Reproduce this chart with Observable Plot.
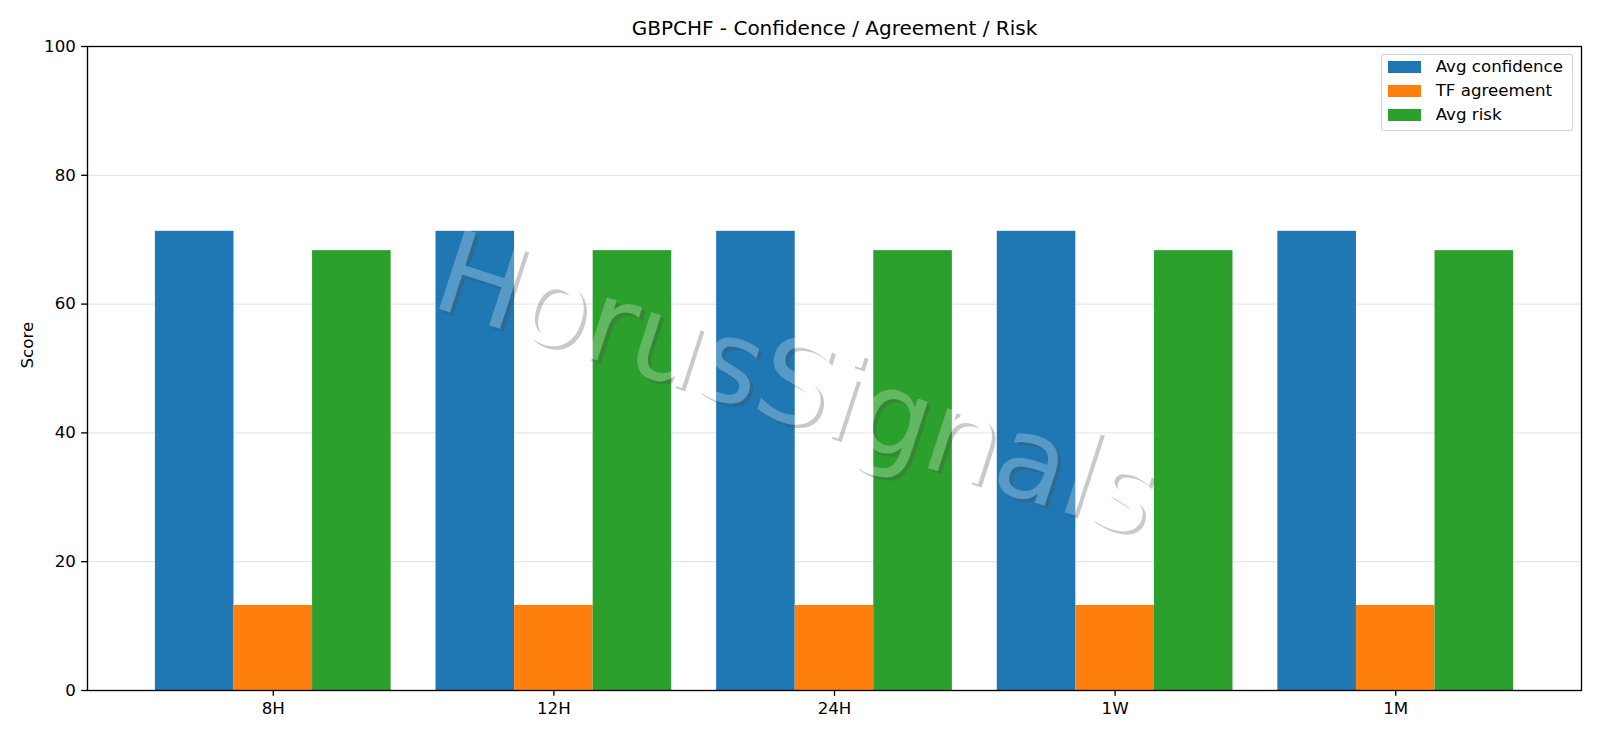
<!DOCTYPE html>
<html>
<head>
<meta charset="utf-8">
<script src="https://cdn.jsdelivr.net/npm/d3@7"></script>
<script src="https://cdn.jsdelivr.net/npm/@observablehq/plot@0.6"></script>
<style>
  html, body { margin: 0; padding: 0; background: #fff; }
  #wrap { position: relative; width: 1600px; height: 738px; font-family: "DejaVu Sans", sans-serif; color: #000; }
  #wrap svg { display: block; }
  .legend { position: absolute; left: 1380.7px; top: 54.3px; width: 192px; height: 77px; box-sizing: border-box;
            border: 1px solid rgba(204,204,204,0.85); border-radius: 3px; background: rgba(255,255,255,0.8); }
  .sw { position: absolute; left: 6px; width: 33.3px; height: 11.67px; }
  .lt { position: absolute; left: 54px; font-size: 16.67px; line-height: 20px; white-space: nowrap; }
</style>
</head>
<body>
<div id="wrap"></div>
<script>
// ---- data ----
const categories = ["8H", "12H", "24H", "1W", "1M"];
const seriesNames = ["Avg confidence", "TF agreement", "Avg risk"];
const avgConfidence = [71.3, 71.3, 71.3, 71.3, 71.3];
const tfAgreement = [13.2, 13.2, 13.2, 13.2, 13.2];
const avgRisk = [68.3, 68.3, 68.3, 68.3, 68.3];
const seriesColors = ["#1f77b4", "#ff7f0e", "#2ca02c"];
const yTicks = [0, 20, 40, 60, 80, 100];
const titleText = "GBPCHF - Confidence / Agreement / Risk";
const yLabel = "Score";
const watermark = "HorusSignals";

// ---- table for the library ----
const seriesValues = [avgConfidence, tfAgreement, avgRisk];
const barWidth = 0.28;
const rows = [];
categories.forEach((c, i) => seriesNames.forEach((s, j) =>
  rows.push({category: c, index: i, series: s, slot: j, value: seriesValues[j][i]})));

const wmSize = 115, wmRotate = 18, wmDx = -38, wmDy = 18, shadowOff = 3.3;

const chart = Plot.plot({
  width: 1600,
  height: 738,
  marginLeft: 87,
  marginRight: 19,
  marginTop: 46,
  marginBottom: 48,
  style: {fontFamily: "DejaVu Sans", fontSize: "16.67px", color: "#000", background: "#fff", overflow: "visible"},
  x: {type: "linear", domain: [-0.662, 4.662]},
  y: {domain: [0, 100]},
  color: {domain: seriesNames, range: seriesColors},
  marks: [
    Plot.gridY(yTicks.filter(t => t > 0 && t < 100), {stroke: "#b0b0b0", strokeOpacity: 0.3, strokeWidth: 1.33}),
    Plot.rect(rows, {
      x1: d => d.index + (d.slot - 1) * barWidth - barWidth / 2,
      x2: d => d.index + (d.slot - 1) * barWidth + barWidth / 2,
      y1: 0,
      y2: "value",
      fill: "series"
    }),
    Plot.frame({stroke: "#000", strokeWidth: 1.33}),
    Plot.axisY(yTicks, {tickSize: 5.83, tickPadding: 5.83, strokeWidth: 1.33, label: null, fontSize: 16.67}),
    Plot.axisX(categories.map((c, i) => i), {tickSize: 5.83, tickPadding: 5.83, strokeWidth: 1.33,
      tickFormat: i => categories[i], label: null, fontSize: 16.67}),
    Plot.text([yLabel], {frameAnchor: "left", dx: -60, rotate: -90, fontSize: 16.67, fill: "#000"}),
    Plot.text([titleText], {frameAnchor: "top", dy: -11.3, lineAnchor: "bottom", fontSize: 20, fill: "#000"}),
    Plot.text([watermark], {ariaLabel: () => "wm-shadow", frameAnchor: "middle", dx: wmDx + shadowOff, dy: wmDy + shadowOff,
      rotate: wmRotate, fontSize: wmSize, fill: "#4d4d4d", fillOpacity: 0.3}),
    Plot.text([watermark], {ariaLabel: () => "wm-text", frameAnchor: "middle", dx: wmDx, dy: wmDy,
      rotate: wmRotate, fontSize: wmSize, fill: "#fff", fillOpacity: 0.25})
  ]
});

const wrap = document.getElementById("wrap");
wrap.appendChild(chart);

// the shadow is only visible outside the watermark glyphs: mask it with the glyph shapes
(function () {
  const svgEl = chart.tagName.toLowerCase() === "svg" ? chart : chart.querySelector("svg");
  const groups = Array.from(svgEl.querySelectorAll('g[aria-label="text"]'));
  const findGroup = (label) => {
    const el = svgEl.querySelector('[aria-label="' + label + '"]');
    if (el) return el.tagName.toLowerCase() === "g" ? el : el.closest("g");
    return null;
  };
  let shadowG = findGroup("wm-shadow");
  let textG = findGroup("wm-text");
  if (!shadowG || !textG) { shadowG = groups[groups.length - 2]; textG = groups[groups.length - 1]; }
  if (!shadowG || !textG) return;
  const NS = "http://www.w3.org/2000/svg";
  const defs = document.createElementNS(NS, "defs");
  svgEl.insertBefore(defs, svgEl.firstChild);
  const mask = document.createElementNS(NS, "mask");
  mask.setAttribute("id", "wm-mask");
  mask.setAttribute("maskUnits", "userSpaceOnUse");
  mask.setAttribute("x", 0); mask.setAttribute("y", 0);
  mask.setAttribute("width", 1600); mask.setAttribute("height", 738);
  const rect = document.createElementNS(NS, "rect");
  rect.setAttribute("x", 0); rect.setAttribute("y", 0);
  rect.setAttribute("width", 1600); rect.setAttribute("height", 738);
  rect.setAttribute("fill", "#fff");
  mask.appendChild(rect);
  const clone = textG.cloneNode(true);
  clone.setAttribute("fill", "#000");
  clone.setAttribute("fill-opacity", "1");
  clone.querySelectorAll("text").forEach(t => { t.setAttribute("fill", "#000"); t.setAttribute("fill-opacity", "1"); });
  mask.appendChild(clone);
  defs.appendChild(mask);
  const holder = document.createElementNS(NS, "g");
  holder.setAttribute("mask", "url(#wm-mask)");
  shadowG.parentNode.insertBefore(holder, shadowG);
  holder.appendChild(shadowG);
})();

// legend (HTML overlay)
const legend = document.createElement("div");
legend.className = "legend";
const centers = [66.7, 91, 115];
seriesNames.forEach((name, j) => {
  const sw = document.createElement("div");
  sw.className = "sw";
  sw.style.background = seriesColors[j];
  sw.style.top = (centers[j] - 55.3 - 5.83) + "px";
  legend.appendChild(sw);
  const t = document.createElement("div");
  t.className = "lt";
  t.textContent = name;
  t.style.top = (centers[j] - 55.3 - 10) + "px";
  legend.appendChild(t);
});
wrap.appendChild(legend);
</script>
</body>
</html>
